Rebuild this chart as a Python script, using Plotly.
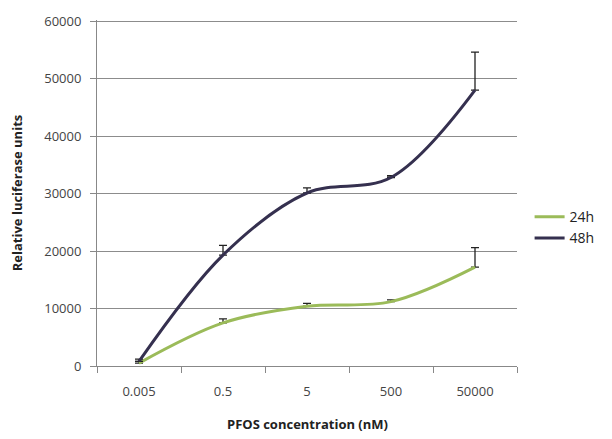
import plotly.graph_objects as go

categories = ["0.005", "0.5", "5", "500", "50000"]
h24 = [500, 7500, 10400, 11200, 17200]
h24_err = [300, 700, 500, 300, 3400]
h48 = [800, 19300, 30100, 32800, 48000]
h48_err = [400, 1700, 900, 300, 6600]

fig = go.Figure()
fig.add_trace(go.Scatter(
    x=categories, y=h24, name="24h", mode="lines",
    line=dict(color="#9BBB59", width=3, shape="spline", smoothing=1.0),
    error_y=dict(type="data", array=h24_err, arrayminus=[0]*5, symmetric=False,
                 color="#222222", thickness=1.3, width=4),
))
fig.add_trace(go.Scatter(
    x=categories, y=h48, name="48h", mode="lines",
    line=dict(color="#35304F", width=3, shape="spline", smoothing=1.0),
    error_y=dict(type="data", array=h48_err, arrayminus=[0]*5, symmetric=False,
                 color="#222222", thickness=1.3, width=4),
))

font_fam = "Open Sans, Liberation Sans, Arial"
fig.update_layout(
    width=612, height=439,
    margin=dict(l=97, r=92, t=14, b=73),
    paper_bgcolor="white", plot_bgcolor="white",
    font=dict(family=font_fam, size=13, color="#444444"),
    showlegend=True,
    legend=dict(x=1.03, y=0.4, xanchor="left", yanchor="middle",
                font=dict(size=14, color="#222222"), tracegroupgap=12,
                itemwidth=30, bgcolor="rgba(0,0,0,0)"),
    xaxis=dict(
        type="category", showgrid=False, showline=True, linecolor="#888888",
        ticks="outside", tickson="boundaries", ticklen=6, tickcolor="#888888",
        tickfont=dict(size=13, color="#444444"), ticklabelstandoff=13,
        range=[-0.5, 4.5], automargin=False,
    ),
    yaxis=dict(
        range=[0, 60200], tickvals=[0, 10000, 20000, 30000, 40000, 50000, 60000],
        ticktext=["0", "10000", "20000", "30000", "40000", "50000", "60000"],
        showgrid=True, gridcolor="#8C8C8C", gridwidth=1,
        showline=True, linecolor="#888888", ticks="outside", ticklen=6, tickcolor="#888888",
        tickfont=dict(size=13, color="#444444"), zeroline=False, ticklabelstandoff=6,
        title=dict(text="<b>Relative luciferase units</b>", font=dict(size=13, color="#222222"), standoff=18),
    ),
    annotations=[dict(
        text="<b>PFOS concentration (nM)</b>", xref="paper", yref="paper",
        x=0.5, y=-0.168, xanchor="center", yanchor="middle", showarrow=False,
        font=dict(size=13, color="#222222"),
    )],
)

fig.write_html("out.html")
